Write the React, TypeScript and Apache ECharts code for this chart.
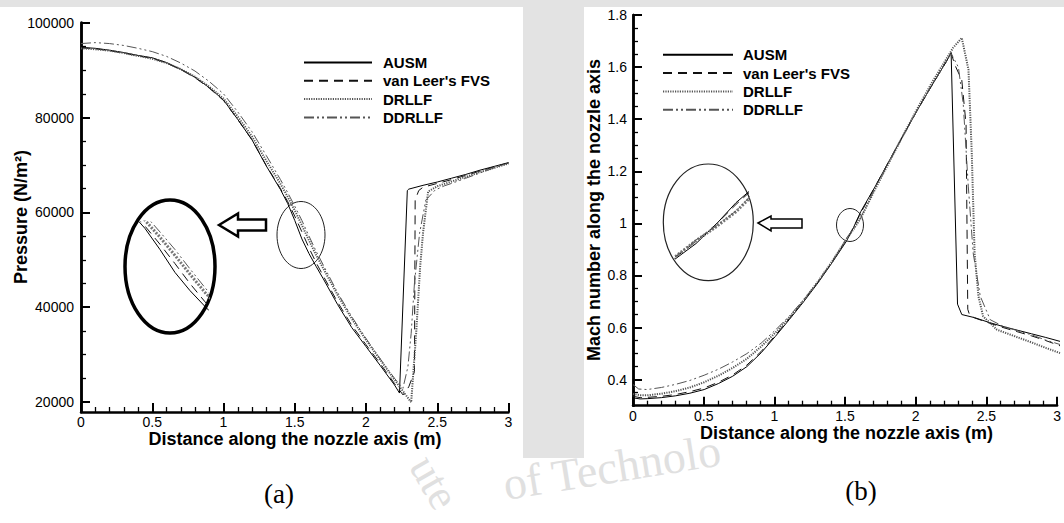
import React, { useEffect, useRef } from "react";
import * as echarts from "echarts";

// ---------- names ----------
const schemeNames = ["AUSM", "van Leer's FVS", "DRLLF", "DDRLLF"];
const xTitle = "Distance along the nozzle axis (m)";
const pressureTitle = "Pressure (N/m²)";
const machTitle = "Mach number along the nozzle axis";

// ---------- (a) pressure along the nozzle axis ----------
const pAusmX = [0, 0.1, 0.2, 0.3, 0.4, 0.5, 0.6, 0.7, 0.8, 0.9, 1.0, 1.1, 1.2, 1.3, 1.4, 1.45, 1.5, 1.55, 1.6, 1.65, 1.7, 1.8, 1.9, 2.0, 2.1, 2.2, 2.235, 2.29, 2.3, 2.4, 2.5, 2.6, 2.7, 2.8, 2.9, 3.0];
const pAusm = [94800, 94600, 94200, 93700, 93100, 92600, 91600, 90200, 88500, 86300, 83700, 79600, 75300, 69800, 64800, 61900, 58300, 54400, 51300, 48600, 46000, 40600, 35700, 31700, 27700, 23600, 21900, 64600, 64900, 65700, 66400, 67200, 68000, 68900, 69700, 70500];

const pVanLeerX = [0, 0.1, 0.2, 0.3, 0.4, 0.5, 0.6, 0.7, 0.8, 0.9, 1.0, 1.1, 1.2, 1.3, 1.4, 1.45, 1.5, 1.55, 1.6, 1.65, 1.7, 1.8, 1.9, 2.0, 2.1, 2.2, 2.26, 2.3, 2.34, 2.345, 2.37, 2.4, 2.5, 2.6, 2.7, 2.8, 2.9, 3.0];
const pVanLeer = [94700, 94500, 94100, 93600, 93000, 92500, 91500, 90100, 88400, 86200, 83600, 79600, 75300, 69900, 65000, 62300, 59200, 55900, 52500, 49400, 46600, 41100, 36200, 32100, 28100, 23900, 21500, 23200, 26400, 62600, 64600, 65300, 66100, 66900, 67800, 68700, 69600, 70400];

const pDrllfX = [0, 0.1, 0.2, 0.3, 0.4, 0.5, 0.6, 0.7, 0.8, 0.9, 1.0, 1.1, 1.2, 1.3, 1.4, 1.45, 1.5, 1.55, 1.6, 1.65, 1.7, 1.8, 1.9, 2.0, 2.1, 2.2, 2.317, 2.352, 2.38, 2.4, 2.42, 2.436, 2.5, 2.6, 2.7, 2.8, 2.9, 3.0];
const pDrllf = [94600, 94400, 94100, 93600, 93000, 92400, 91500, 90200, 88600, 86500, 84000, 80200, 76000, 70900, 66000, 63300, 60400, 57300, 54100, 51000, 48200, 42600, 37600, 33100, 28900, 24700, 19950, 34500, 48500, 55600, 60500, 64400, 65500, 66500, 67500, 68500, 69400, 70300];

const pDdrllfX = [0, 0.1, 0.2, 0.3, 0.4, 0.5, 0.6, 0.7, 0.8, 0.9, 1.0, 1.1, 1.2, 1.3, 1.4, 1.45, 1.5, 1.55, 1.6, 1.65, 1.7, 1.8, 1.9, 2.0, 2.1, 2.2, 2.259, 2.294, 2.317, 2.34, 2.376, 2.42, 2.485, 2.55, 2.6, 2.7, 2.8, 2.9, 3.0];
const pDdrllf = [95600, 95800, 95600, 95200, 94600, 93900, 92900, 91500, 89800, 87600, 85000, 81200, 77000, 72000, 66900, 64200, 61300, 58300, 55000, 51800, 48900, 43100, 38000, 33400, 29100, 25000, 22900, 27400, 34500, 45000, 55600, 62600, 64700, 65600, 66100, 67200, 68300, 69400, 70400];

// ---------- (b) Mach number along the nozzle axis ----------
const mAusmX = [0, 0.05, 0.1, 0.2, 0.3, 0.4, 0.5, 0.6, 0.7, 0.8, 0.9, 1.0, 1.1, 1.2, 1.3, 1.4, 1.5, 1.55, 1.6, 1.7, 1.8, 1.9, 2.0, 2.1, 2.2, 2.235, 2.28, 2.31, 2.4, 2.5, 2.6, 2.7, 2.8, 2.9, 3.0];
const mAusm = [0.33, 0.326, 0.327, 0.331, 0.338, 0.348, 0.362, 0.385, 0.413, 0.45, 0.503, 0.566, 0.632, 0.7, 0.772, 0.85, 0.932, 0.985, 1.045, 1.14, 1.24, 1.34, 1.437, 1.53, 1.62, 1.655, 0.69, 0.65, 0.638, 0.62, 0.604, 0.59, 0.576, 0.562, 0.547];

const mVanLeerX = [0, 0.05, 0.1, 0.2, 0.3, 0.4, 0.5, 0.6, 0.7, 0.8, 0.9, 1.0, 1.1, 1.2, 1.3, 1.4, 1.5, 1.55, 1.6, 1.7, 1.8, 1.9, 2.0, 2.1, 2.2, 2.235, 2.26, 2.31, 2.34, 2.352, 2.365, 2.4, 2.5, 2.6, 2.7, 2.8, 2.9, 3.0];
const mVanLeer = [0.336, 0.331, 0.332, 0.336, 0.343, 0.354, 0.368, 0.39, 0.418, 0.456, 0.508, 0.57, 0.636, 0.703, 0.775, 0.852, 0.938, 0.985, 1.04, 1.14, 1.24, 1.34, 1.437, 1.53, 1.62, 1.655, 1.61, 1.55, 1.38, 0.67, 0.648, 0.637, 0.618, 0.6, 0.584, 0.568, 0.55, 0.53];

const mDrllfX = [0, 0.05, 0.1, 0.2, 0.3, 0.4, 0.5, 0.6, 0.7, 0.8, 0.9, 1.0, 1.1, 1.2, 1.3, 1.4, 1.5, 1.55, 1.6, 1.7, 1.8, 1.9, 2.0, 2.1, 2.2, 2.25, 2.31, 2.357, 2.38, 2.4, 2.427, 2.46, 2.556, 2.7, 2.8, 2.9, 3.0];
const mDrllf = [0.345, 0.34, 0.34, 0.346, 0.356, 0.37, 0.39, 0.415, 0.445, 0.48, 0.527, 0.58, 0.64, 0.705, 0.777, 0.855, 0.94, 0.978, 1.02, 1.13, 1.235, 1.34, 1.443, 1.54, 1.63, 1.675, 1.712, 1.59, 1.27, 0.886, 0.72, 0.643, 0.592, 0.563, 0.543, 0.522, 0.502];

const mDdrllfX = [0, 0.04, 0.1, 0.2, 0.3, 0.4, 0.5, 0.6, 0.7, 0.8, 0.9, 1.0, 1.1, 1.2, 1.3, 1.4, 1.5, 1.55, 1.6, 1.7, 1.8, 1.9, 2.0, 2.1, 2.2, 2.235, 2.286, 2.32, 2.356, 2.39, 2.44, 2.51, 2.6, 2.7, 2.8, 2.9, 3.0];
const mDdrllf = [0.381, 0.364, 0.362, 0.37, 0.382, 0.397, 0.417, 0.44, 0.468, 0.5, 0.54, 0.59, 0.645, 0.708, 0.777, 0.853, 0.942, 0.98, 1.022, 1.135, 1.237, 1.337, 1.437, 1.53, 1.62, 1.652, 1.6, 1.46, 1.14, 0.886, 0.72, 0.63, 0.605, 0.588, 0.572, 0.552, 0.535];

// ---------- ticks ----------
const pressureMajorTicks = [20000, 40000, 60000, 80000, 100000];
const pressureMinorTicks = [25000, 30000, 35000, 45000, 50000, 55000, 65000, 70000, 75000, 85000, 90000, 95000];
const machMajorTicks = [0.4, 0.6, 0.8, 1, 1.2, 1.4, 1.6, 1.8];
const machMinorTicks = [0.35, 0.45, 0.5, 0.55, 0.65, 0.7, 0.75, 0.85, 0.9, 0.95, 1.05, 1.1, 1.15, 1.25, 1.3, 1.35, 1.45, 1.5, 1.55, 1.65, 1.7, 1.75];

const FONT = "'Liberation Sans', Arial, Helvetica, sans-serif";
const SERIF = "'Liberation Serif', 'DejaVu Serif', serif";
const zip = (xs: number[], ys: number[]) => xs.map((x, i) => [x, ys[i]]);

const lineStyles: any[] = [
  { color: "#000", width: 1, type: "solid" },
  { color: "#111", width: 1, type: [9, 6] },
  { color: "#555", width: 2, type: [1.2, 1.2] },
  { color: "#555", width: 1, type: [10, 3, 2, 3, 2, 3] },
];

const pressureData = [zip(pAusmX, pAusm), zip(pVanLeerX, pVanLeer), zip(pDrllfX, pDrllf), zip(pDdrllfX, pDdrllf)];
const machData = [zip(mAusmX, mAusm), zip(mVanLeerX, mVanLeer), zip(mDrllfX, mDrllf), zip(mDdrllfX, mDdrllf)];

const GRIDS = [
  { left: 81, top: 22.7, width: 427.5, height: 389.3 },
  { left: 633, top: 15, width: 427, height: 390.7 },
  { left: 136, top: 222, width: 72, height: 88 },
  { left: 676, top: 190, width: 72, height: 76 },
];
const Y_RANGES = [[17900, 100000], [0.3, 1.8]];

function mainXAxis(gridIndex: number) {
  return {
    gridIndex,
    type: "value",
    min: 0,
    max: 3,
    interval: 0.5,
    axisLine: { show: true, onZero: false, lineStyle: { color: "#000", width: 2.5 } },
    axisTick: { show: true, inside: true, length: 9, lineStyle: { color: "#000", width: 2 } },
    minorTick: { show: true, splitNumber: 5, length: 5, lineStyle: { color: "#000", width: 1.3 } },
    axisLabel: { color: "#000", fontSize: 14, fontFamily: FONT, margin: 3, formatter: (v: number) => String(v) },
    splitLine: { show: false },
  };
}

function tickYAxis(min: number, max: number, ticks: number[], withLabels: boolean, len: number, margin: number) {
  return {
    gridIndex: 0,
    type: "value",
    position: "left",
    min,
    max,
    axisLine: { show: true, onZero: false, lineStyle: { color: "#000", width: 2.5 } },
    axisTick: { show: true, inside: true, length: len, customValues: ticks, lineStyle: { color: "#000", width: withLabels ? 2 : 1.3 } },
    axisLabel: withLabels
      ? { show: true, customValues: ticks, color: "#000", fontSize: 14, fontFamily: FONT, margin, formatter: (v: number) => String(v) }
      : { show: false },
    splitLine: { show: false },
  };
}

function hiddenAxis(gridIndex: number, min: number, max: number) {
  return { gridIndex, type: "value", min, max, show: false, splitLine: { show: false } };
}

function ghostSeries(xi: number, yi: number, data: number[][]) {
  return { type: "line", xAxisIndex: xi, yAxisIndex: yi, data, symbol: "none", silent: true, lineStyle: { opacity: 0 } };
}

function legendFor(left: number, top: number, itemWidth: number, pad: number) {
  return {
    show: true,
    orient: "vertical",
    left,
    top,
    padding: 0,
    itemWidth,
    itemHeight: 14,
    itemGap: 3.3,
    selectedMode: false,
    data: schemeNames,
    itemStyle: { opacity: 0 },
    textStyle: { color: "#000", fontSize: 15, fontWeight: "bold", fontFamily: FONT, padding: [0, 0, 0, pad] },
  };
}

function titleText(text: string, x: number, y: number, rotation: number) {
  return {
    type: "text", silent: true, x, y, rotation,
    style: { text, fontSize: 18, fontWeight: "bold", fontFamily: FONT, fill: "#000", align: "center", verticalAlign: "middle" },
  };
}

function buildLayers(): any[] {
  const layers: any[] = [];

  // A: page background, titles, captions
  layers.push({
    animation: false,
    graphic: [
      { type: "rect", silent: true, shape: { x: 0, y: 0, width: 1064, height: 7 }, style: { fill: "#e3e3e3" } },
      { type: "rect", silent: true, shape: { x: 523, y: 0, width: 61, height: 458 }, style: { fill: "#e3e3e3" } },
      { type: "text", silent: true, x: 440, y: 448, rotation: -1.05, style: { text: "ute", fontSize: 44, fontFamily: SERIF, fill: "#e0e0e0" } },
      { type: "text", silent: true, x: 500, y: 462, rotation: 0.16, style: { text: "of Technolo", fontSize: 46, fontFamily: SERIF, fill: "#e0e0e0" } },
      titleText(xTitle, 295, 439, 0),
      titleText(xTitle, 846.5, 433, 0),
      titleText(pressureTitle, 21, 217, Math.PI / 2),
      titleText(machTitle, 593.5, 210, Math.PI / 2),
      { type: "text", silent: true, x: 279, y: 494, style: { text: "(a)", fontSize: 27, fontFamily: SERIF, fill: "#000", align: "center", verticalAlign: "middle" } },
      { type: "text", silent: true, x: 861, y: 491, style: { text: "(b)", fontSize: 27, fontFamily: SERIF, fill: "#000", align: "center", verticalAlign: "middle" } },
    ],
  });

  // X axes (both panels)
  layers.push({
    animation: false,
    backgroundColor: "transparent",
    grid: [GRIDS[0], GRIDS[1]],
    xAxis: [mainXAxis(0), mainXAxis(1)],
    yAxis: [hiddenAxis(0, Y_RANGES[0][0], Y_RANGES[0][1]), hiddenAxis(1, Y_RANGES[1][0], Y_RANGES[1][1])],
    series: [ghostSeries(0, 0, pressureData[0]), ghostSeries(1, 1, machData[0])],
  });

  // Y axes: one per instance
  const yDefs = [
    { g: 0, ticks: pressureMajorTicks, labels: true, len: 9, margin: 7, data: pressureData[0] },
    { g: 0, ticks: pressureMinorTicks, labels: false, len: 5, margin: 7, data: pressureData[0] },
    { g: 1, ticks: machMajorTicks, labels: true, len: 9, margin: 6, data: machData[0] },
    { g: 1, ticks: machMinorTicks, labels: false, len: 5, margin: 6, data: machData[0] },
  ];
  yDefs.forEach((d) => {
    layers.push({
      animation: false,
      backgroundColor: "transparent",
      grid: [GRIDS[d.g]],
      xAxis: [hiddenAxis(0, 0, 3)],
      yAxis: [tickYAxis(Y_RANGES[d.g][0], Y_RANGES[d.g][1], d.ticks, d.labels, d.len, d.margin)],
      series: [ghostSeries(0, 0, d.data)],
    });
  });

  // curves, insets, legends, zoom marks
  const series: any[] = [];
  schemeNames.forEach((name, i) => {
    series.push({
      name, type: "line", xAxisIndex: 0, yAxisIndex: 0, data: pressureData[i],
      symbol: "none", showSymbol: false, lineStyle: lineStyles[i], itemStyle: { color: lineStyles[i].color },
    });
  });
  schemeNames.forEach((name, i) => {
    series.push({
      name, type: "line", xAxisIndex: 1, yAxisIndex: 1, data: machData[i],
      symbol: "none", showSymbol: false, lineStyle: lineStyles[i], itemStyle: { color: lineStyles[i].color },
    });
  });
  schemeNames.forEach((name, i) => {
    const st = i === 2 ? { color: "#777", width: 3, type: [2, 1.5] } : lineStyles[i];
    series.push({
      name: "inset a " + name, type: "line", xAxisIndex: 2, yAxisIndex: 2, data: pressureData[i],
      symbol: "none", showSymbol: false, clip: true, lineStyle: st,
    });
    series.push({
      name: "inset b " + name, type: "line", xAxisIndex: 3, yAxisIndex: 3, data: machData[i],
      symbol: "none", showSymbol: false, clip: true, lineStyle: st,
    });
  });
  layers.push({
    animation: false,
    backgroundColor: "transparent",
    grid: GRIDS,
    xAxis: [hiddenAxis(0, 0, 3), hiddenAxis(1, 0, 3), hiddenAxis(2, 1.42, 1.66), hiddenAxis(3, 1.45, 1.63)],
    yAxis: [hiddenAxis(0, 17900, 100000), hiddenAxis(1, 0.3, 1.8), hiddenAxis(2, 48000, 63000), hiddenAxis(3, 0.87, 1.08)],
    legend: [legendFor(303, 55, 68, 6), legendFor(662, 47.3, 70, 5)],
    series,
    graphic: [
      { type: "ellipse", silent: true, shape: { cx: 301, cy: 235, rx: 24, ry: 33.5 }, style: { fill: "none", stroke: "#222", lineWidth: 1 } },
      { type: "ellipse", silent: true, shape: { cx: 170, cy: 266.5, rx: 45, ry: 66.5 }, style: { fill: "none", stroke: "#000", lineWidth: 3.5 } },
      { type: "polygon", silent: true, shape: { points: [[219, 225], [238, 213.5], [238, 219.5], [266, 219.5], [266, 230.5], [238, 230.5], [238, 236.5]] }, style: { fill: "#fff", stroke: "#000", lineWidth: 2.5 } },
      { type: "ellipse", silent: true, shape: { cx: 850, cy: 225, rx: 13.5, ry: 16.5 }, style: { fill: "none", stroke: "#222", lineWidth: 1 } },
      { type: "ellipse", silent: true, shape: { cx: 708.3, cy: 222.3, rx: 45, ry: 58.3 }, style: { fill: "none", stroke: "#222", lineWidth: 1.2 } },
      { type: "polygon", silent: true, shape: { points: [[758, 223], [771, 216], [771, 219], [802, 219], [802, 228], [771, 228], [771, 231]] }, style: { fill: "#fff", stroke: "#000", lineWidth: 1.5 } },
    ],
  });

  return layers;
}

const LAYER_COUNT = 7;
const layerStyle: React.CSSProperties = { position: "absolute", left: 0, top: 0, width: 1064, height: 523 };

export default function App() {
  const hostRef = useRef<HTMLDivElement>(null);

  useEffect(() => {
    const host = hostRef.current;
    if (!host) return;
    const divs = Array.from(host.children) as HTMLDivElement[];
    const options = buildLayers();
    const charts: any[] = [];
    options.forEach((opt, i) => {
      const c = echarts.init(divs[i], undefined, { renderer: "svg" });
      try {
        c.setOption(opt);
      } catch (e) {
        // keep other layers alive
      }
      charts.push(c);
    });
    return () => charts.forEach((c) => c.dispose());
  }, []);

  return (
    <div ref={hostRef} style={{ position: "fixed", left: 0, top: 0, width: 1064, height: 523, background: "#fff" }}>
      {Array.from({ length: LAYER_COUNT }).map((_, i) => (
        <div key={i} style={layerStyle} />
      ))}
    </div>
  );
}
